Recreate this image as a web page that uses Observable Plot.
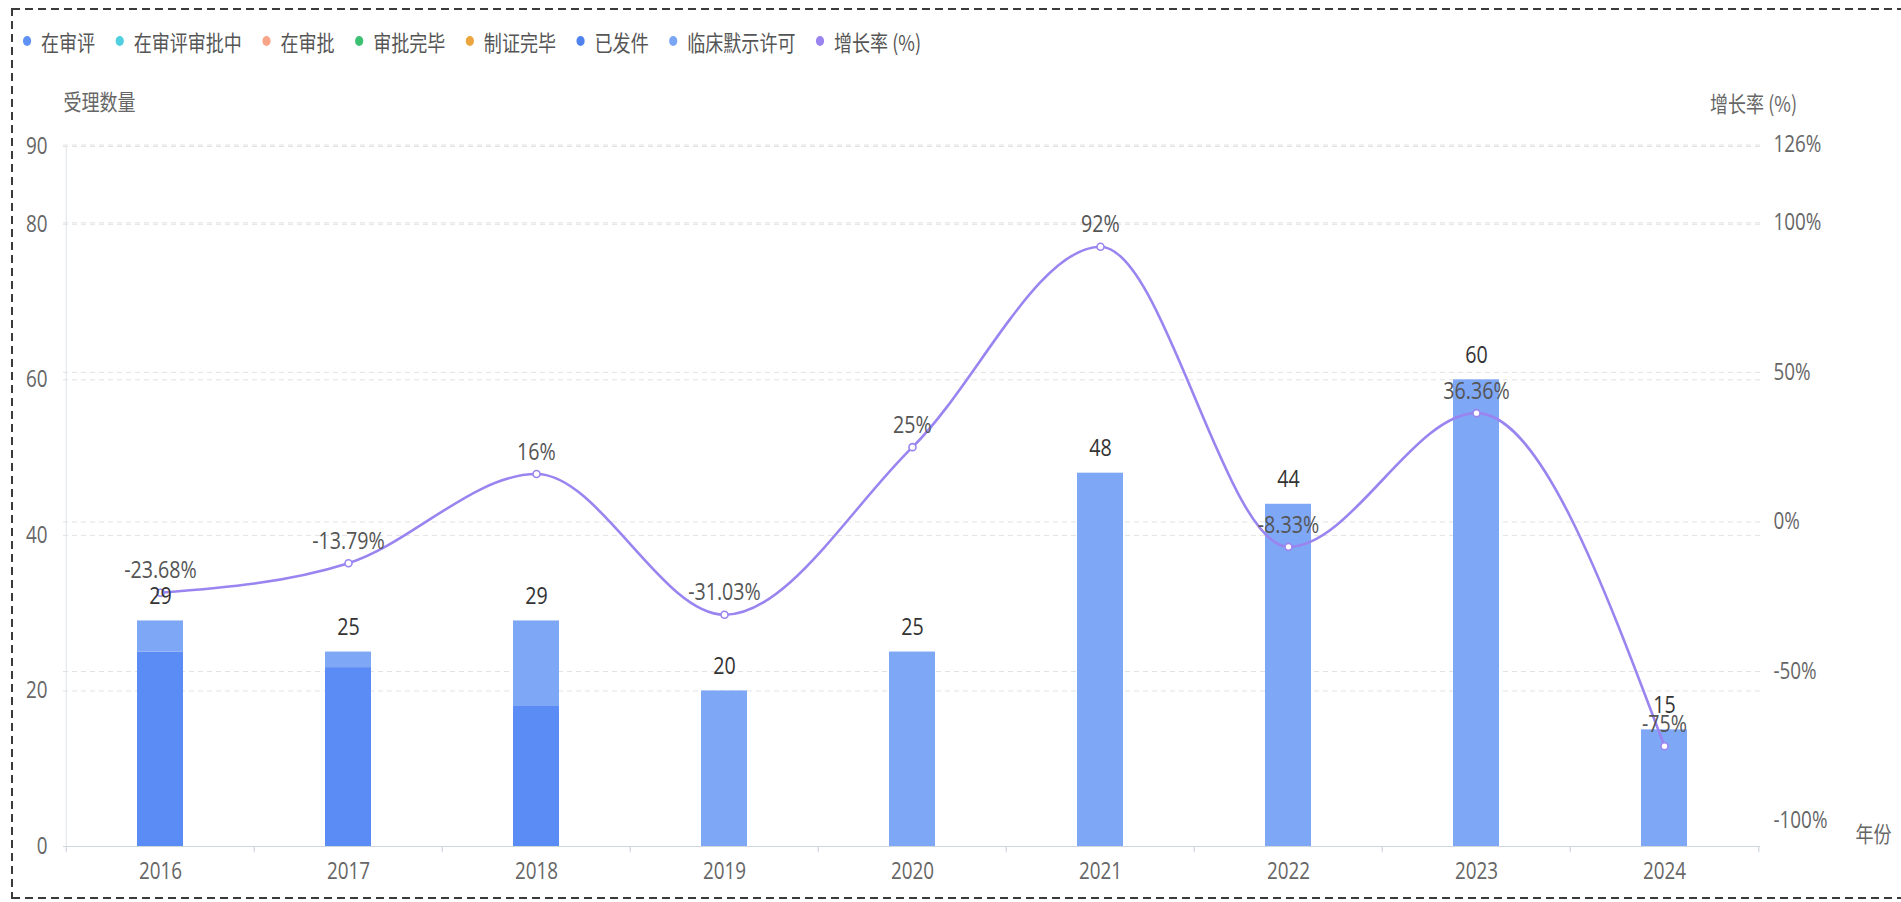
<!DOCTYPE html>
<html>
<head>
<meta charset="utf-8">
<script src="https://cdn.jsdelivr.net/npm/d3@7"></script>
<script src="https://cdn.jsdelivr.net/npm/@observablehq/plot@0.6"></script>
<style>
  html, body { margin: 0; padding: 0; background: #fff; overflow: hidden; }
  .edge { position: absolute; pointer-events: none; }
  #eTop { left: 12px; top: 8px; width: 1889px; height: 2px;
          background: repeating-linear-gradient(to right, #3a3a3a 0 8px, transparent 8px 13px); }
  #eBot { left: 12px; top: 897px; width: 1889px; height: 2px;
          background: repeating-linear-gradient(to right, #3a3a3a 0 8px, transparent 8px 13px); }
  #eLeft { left: 11px; top: 8px; width: 2px; height: 891px;
          background: repeating-linear-gradient(to bottom, #3a3a3a 0 8px, transparent 8px 13px); }
  #legend { height: 70px; position: relative; }
  #legend .inner { position: absolute; left: 0; top: 28px; display: flex; align-items: center;
           transform: scaleX(0.82); transform-origin: 0 0; font-family: "Noto Sans CJK SC", sans-serif;
           font-size: 22px; line-height: 26px; color: #555; white-space: nowrap; padding-left: 28px; }
  .item { display: flex; align-items: center; margin-right: 25px; }
  .dot { width: 10px; height: 10px; border-radius: 50%; margin-right: 12px; }
  #chart svg { display: block; }
</style>
</head>
<body>
<div class="edge" id="eTop"></div>
<div class="edge" id="eBot"></div>
<div class="edge" id="eLeft"></div>
<div id="legend"><div class="inner"></div></div>
<div id="chart"></div>
<script>
// ---------- data ----------
const years = [2016, 2017, 2018, 2019, 2020, 2021, 2022, 2023, 2024];
const issued = [25, 23, 18, 0, 0, 0, 0, 0, 0];          // 已发件
const implied = [4, 2, 11, 20, 25, 48, 44, 60, 15];     // 临床默示许可
const growth = [-23.68, -13.79, 16, -31.03, 25, 92, -8.33, 36.36, -75]; // 增长率 (%)

const legendNames = ["在审评", "在审评审批中", "在审批", "审批完毕", "制证完毕", "已发件", "临床默示许可", "增长率 (%)"];
const legendColors = ["#5f92f4", "#4fcfe0", "#f7a488", "#3cc072", "#eba53c", "#4f82ee", "#7ba5f5", "#9a85f0"];
const barSeries = ["已发件", "临床默示许可"];
const barColors = ["#5b8bf4", "#7ea7f6"];

const leftTicks = [0, 20, 40, 60, 80, 90];
const rightTicks = [126, 100, 50, 0, -50, -100];
const leftGrid = [20, 40, 60, 80, 90];
const rightGrid = [126, 100, 50, 0, -50];

const titleLeft = "受理数量";
const titleRight = "增长率 (%)";
const titleX = "年份";

// ---------- legend ----------
const inner = document.querySelector("#legend .inner");
legendNames.forEach((n, i) => {
  const it = document.createElement("div"); it.className = "item";
  const d = document.createElement("span"); d.className = "dot"; d.style.background = legendColors[i];
  const t = document.createElement("span"); t.textContent = n;
  it.append(d, t); inner.append(it);
});

// ---------- chart ----------
const W = 1901, H = 830, mL = 63, mR = 141, mT = 76, mB = 54;
const step = (W - mL - mR) / years.length;
const R0 = -108.5, R1 = 125.5, LMAX = 90;
const toLeft = g => (g - R0) / (R1 - R0) * LMAX;
const fromLeft = v => v / LMAX * (R1 - R0) + R0;

const barRows = years.flatMap((y, i) => [
  {year: y, series: barSeries[0], value: issued[i]},
  {year: y, series: barSeries[1], value: implied[i]}
]);
const totals = years.map((y, i) => ({year: y, total: issued[i] + implied[i]}));
const rates = years.map((y, i) => ({year: y, g: growth[i]}));

const num = '"Open Sans", "Liberation Sans", sans-serif';
const cjk = '"Noto Sans CJK SC", sans-serif';
const purple = "#9a85f0";
const SQ = 0.82;

const plot = Plot.plot({
  width: W, height: H,
  marginLeft: mL, marginRight: mR, marginTop: mT, marginBottom: mB,
  x: {type: "band", domain: years, paddingInner: 0.756, paddingOuter: 0.378},
  y: {domain: [0, LMAX]},
  color: {domain: barSeries, range: barColors},
  style: {fontFamily: num, background: "transparent", overflow: "visible"},
  marks: [
    Plot.ruleY(leftGrid, {stroke: "#e2e2e2", strokeDasharray: "5,4"}),
    Plot.ruleY(rightGrid.map(toLeft), {stroke: "#e2e2e2", strokeDasharray: "5,4"}),
    Plot.barY(barRows, {x: "year", y: "value", fill: "series"}),
    Plot.ruleY([0], {stroke: "#cfd6de", strokeWidth: 1.2}),
    Plot.ruleX([years[0]], {dx: -step / 2, y1: 0, y2: LMAX, stroke: "#dfe3e8"}),
    Plot.ruleX(years, {dx: -step / 2, y1: 0, y2: -0.8, stroke: "#cfd6de", strokeWidth: 1.2}),
    Plot.ruleX([years[years.length - 1]], {dx: step / 2, y1: 0, y2: -0.8, stroke: "#cfd6de", strokeWidth: 1.2}),
    Plot.axisX({tickSize: 0, tickPadding: 16, tickFormat: d => String(d), label: null,
                fontSize: 23, fill: "#666", fontFamily: num}),
    Plot.axisY(leftTicks, {tickSize: 0, tickPadding: 16, label: null,
                fontSize: 23, fill: "#666", fontFamily: num}),
    Plot.axisY(rightTicks.map(toLeft), {anchor: "right", tickSize: 0, tickPadding: 13, label: null,
                tickFormat: v => Math.round(fromLeft(v)) + "%",
                fontSize: 23, fill: "#666", fontFamily: num}),
    Plot.lineY(rates, {x: "year", y: d => toLeft(d.g), curve: "monotone-x", stroke: purple, strokeWidth: 2.6}),
    Plot.dot(rates, {x: "year", y: d => toLeft(d.g), r: 3.5, fill: "#fff", stroke: purple, strokeWidth: 1.6}),
    Plot.text(totals, {x: "year", y: "total", dy: -25, text: d => String(d.total),
                fontSize: 24, fill: "#333", fontFamily: num}),
    Plot.text(rates, {x: "year", y: d => toLeft(d.g), dy: -22, text: d => d.g + "%",
                fontSize: 24, fill: "#555", fontFamily: num}),
    Plot.text([titleLeft], {frameAnchor: "top-left", textAnchor: "middle", dx: 36, dy: -52, text: d => d,
                fontSize: 22, fill: "#666", fontFamily: cjk}),
    Plot.text([titleRight], {frameAnchor: "top-right", textAnchor: "middle", dx: -7, dy: -50, text: d => d,
                fontSize: 22, fill: "#666", fontFamily: cjk}),
    Plot.text([titleX], {frameAnchor: "bottom-right", textAnchor: "middle", dx: 113, dy: -5, text: d => d,
                fontSize: 22, fill: "#666", fontFamily: cjk})
  ]
});

// narrow every text horizontally around its own anchor (the reference's type is condensed)
plot.querySelectorAll("text").forEach(t => {
  const tr = t.getAttribute("transform");
  if (tr) {
    t.setAttribute("transform", tr + ` scale(${SQ},1)`);
  } else {
    const x = +(t.getAttribute("x") || 0), y = +(t.getAttribute("y") || 0);
    t.removeAttribute("x"); t.removeAttribute("y");
    t.setAttribute("transform", `translate(${x},${y}) scale(${SQ},1)`);
  }
});
document.getElementById("chart").append(plot);
</script>
</body>
</html>
